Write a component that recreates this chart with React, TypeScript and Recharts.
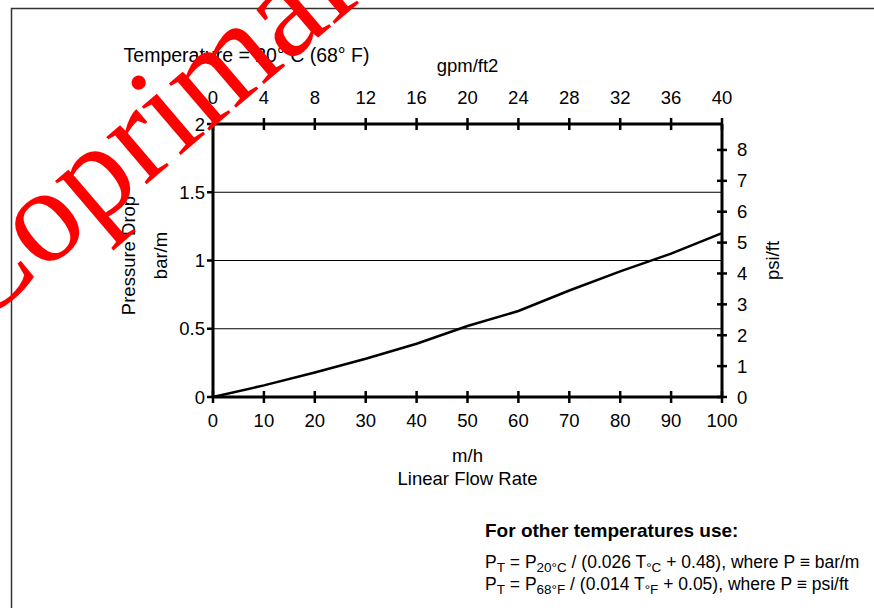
import React from 'react';
import { LineChart, Line, XAxis, YAxis, CartesianGrid, Label } from 'recharts';

// m/h on the bottom axis, pressure drop in bar/m
const flowRate = [0, 10, 20, 30, 40, 50, 60, 70, 80, 90, 100];
const pressureDrop = [0, 0.085, 0.18, 0.28, 0.39, 0.52, 0.63, 0.78, 0.92, 1.05, 1.2];

const bottomTicks = [0, 10, 20, 30, 40, 50, 60, 70, 80, 90, 100];
const topTicks = [0, 4, 8, 12, 16, 20, 24, 28, 32, 36, 40];
const leftTicks = [0, 0.5, 1, 1.5, 2];
const rightTicks = [0, 1, 2, 3, 4, 5, 6, 7, 8];

const data = flowRate.map((x, i) => ({ x, p: pressureDrop[i] }));

// the gpm/ft2 scale on top runs 0..40 across the same width as 0..100 m/h
const toGpm = (d: any) => d.x * 0.4;

const FONT = "'Liberation Sans', Arial, sans-serif";
const TICK_FS = 18.5;

const BottomTick = ({ x, y, payload }: any) => (
  <g>
    <line x1={x} x2={x} y1={y - 6} y2={y + 6} stroke="#000" strokeWidth={2.5} />
    <text x={x} y={y + 30} textAnchor="middle" fontFamily={FONT} fontSize={TICK_FS} fill="#000">
      {payload.value}
    </text>
  </g>
);

const TopTick = ({ x, y, payload }: any) => (
  <g>
    <line x1={x} x2={x} y1={y - 6} y2={y + 6} stroke="#000" strokeWidth={2.5} />
    <text x={x} y={y - 20} textAnchor="middle" fontFamily={FONT} fontSize={TICK_FS} fill="#000">
      {payload.value}
    </text>
  </g>
);

const LeftTick = ({ x, y, payload }: any) => (
  <g>
    <line x1={x - 6} x2={x} y1={y} y2={y} stroke="#000" strokeWidth={2.5} />
    <text x={x - 8} y={y + 6.5} textAnchor="end" fontFamily={FONT} fontSize={TICK_FS} fill="#000">
      {payload.value}
    </text>
  </g>
);

const RightTick = ({ x, y, payload }: any) => (
  <g>
    <line x1={x - 5} x2={x + 5} y1={y} y2={y} stroke="#000" strokeWidth={2.5} />
    <text x={x + 15} y={y + 6.5} textAnchor="start" fontFamily={FONT} fontSize={TICK_FS} fill="#000">
      {payload.value}
    </text>
  </g>
);

const bottomTitle = ({ viewBox }: any) => {
  const cx = viewBox.x + viewBox.width / 2;
  const y0 = viewBox.y;
  return (
    <g fontFamily={FONT} fontSize={18.5} fill="#000" textAnchor="middle">
      <text x={cx} y={y0 + 65}>m/h</text>
      <text x={cx} y={y0 + 88}>Linear Flow Rate</text>
    </g>
  );
};

const topTitle = ({ viewBox }: any) => (
  <text x={viewBox.x + viewBox.width / 2} y={viewBox.y + viewBox.height - 52} textAnchor="middle"
    fontFamily={FONT} fontSize={18.5} fill="#000">
    gpm/ft2
  </text>
);

const leftTitle = ({ viewBox }: any) => {
  const right = viewBox.x + viewBox.width;
  const cy = viewBox.y + viewBox.height / 2 - 5;
  const x1 = right - 78;
  const x2 = right - 46;
  return (
    <g fontFamily={FONT} fontSize={18.5} fill="#000" textAnchor="middle">
      <text x={x1} y={cy} transform={`rotate(-90, ${x1}, ${cy})`}>Pressure Drop</text>
      <text x={x2} y={cy} transform={`rotate(-90, ${x2}, ${cy})`}>bar/m</text>
    </g>
  );
};

const rightTitle = ({ viewBox }: any) => {
  const cy = viewBox.y + viewBox.height / 2;
  const x = viewBox.x + 57;
  return (
    <text x={x} y={cy} transform={`rotate(-90, ${x}, ${cy})`} textAnchor="middle"
      fontFamily={FONT} fontSize={18.5} fill="#000">
      psi/ft
    </text>
  );
};

export default function App() {
  return (
    <div style={{ position: 'absolute', left: 0, top: 0, width: 874, height: 608, background: '#fff' }}>
      <LineChart width={874} height={608} data={data}
        margin={{ top: 123, right: 151, bottom: 210, left: 212 }}>
        <CartesianGrid xAxisId="bottom" yAxisId="left" vertical={false} stroke="#000" strokeWidth={1} />
        <XAxis xAxisId="bottom" dataKey="x" type="number" domain={[0, 100]} ticks={bottomTicks}
          height={1} tickSize={0} tickMargin={0} tick={<BottomTick />}
          axisLine={{ stroke: '#000', strokeWidth: 3 }} interval={0}>
          <Label content={bottomTitle} />
        </XAxis>
        <XAxis xAxisId="top" orientation="top" dataKey={toGpm} type="number" domain={[0, 40]} allowDataOverflow
          ticks={topTicks} height={1} tickSize={0} tickMargin={0} tick={<TopTick />}
          axisLine={{ stroke: '#000', strokeWidth: 3 }} interval={0}>
          <Label content={topTitle} />
        </XAxis>
        <YAxis yAxisId="left" type="number" domain={[0, 2]} ticks={leftTicks}
          width={1} tickSize={0} tickMargin={0} tick={<LeftTick />}
          axisLine={{ stroke: '#000', strokeWidth: 3 }} interval={0}>
          <Label content={leftTitle} />
        </YAxis>
        <YAxis yAxisId="right" orientation="right" type="number" domain={[0, 8.84]} allowDataOverflow
          ticks={rightTicks} width={1} tickSize={0} tickMargin={0} tick={<RightTick />}
          axisLine={{ stroke: '#000', strokeWidth: 3 }} interval={0}>
          <Label content={rightTitle} />
        </YAxis>
        <Line xAxisId="bottom" yAxisId="left" dataKey="p" type="linear" stroke="#000"
          strokeWidth={2.5} dot={false} isAnimationActive={false} />
      </LineChart>

      <svg width={874} height={608} style={{ position: 'absolute', left: 0, top: 0, pointerEvents: 'none' }}>
        <path d="M11.5,608 L11.5,8.5 L874,8.5" fill="none" stroke="#333" strokeWidth={1.5} />
        <text x={246.5} y={61.5} textAnchor="middle" fontFamily={FONT} fontSize={19.5} fill="#000">
          Temperature = 20° C (68° F)
        </text>
        <text x={485} y={537} fontFamily={FONT} fontSize={19} fontWeight="bold" fill="#000">
          For other temperatures use:
        </text>
        <g fontFamily={FONT} fontSize={17.5} fill="#000">
          <text x={485} y={568}>
            P<tspan fontSize={13.5} dy={4}>T</tspan>
            <tspan dy={-4}> = P</tspan>
            <tspan fontSize={13.5} dy={4}>20°C</tspan>
            <tspan dy={-4}> / (0.026 T</tspan>
            <tspan fontSize={13.5} dy={4}>°C</tspan>
            <tspan dy={-4}> + 0.48), where P ≡ bar/m</tspan>
          </text>
          <text x={485} y={590}>
            P<tspan fontSize={13.5} dy={4}>T</tspan>
            <tspan dy={-4}> = P</tspan>
            <tspan fontSize={13.5} dy={4}>68°F</tspan>
            <tspan dy={-4}> / (0.014 T</tspan>
            <tspan fontSize={13.5} dy={4}>°F</tspan>
            <tspan dy={-4}> + 0.05), where P ≡ psi/ft</tspan>
          </text>
        </g>
        <g transform="rotate(-4.5, 30, 250)">
          <text x={-33} y={327.5} transform="rotate(-36, -33, 327.5)" fontFamily="'Liberation Serif', 'Times New Roman', serif"
            fontSize={135} fill="#ff0000">
            Coprimal
          </text>
        </g>
      </svg>
    </div>
  );
}
